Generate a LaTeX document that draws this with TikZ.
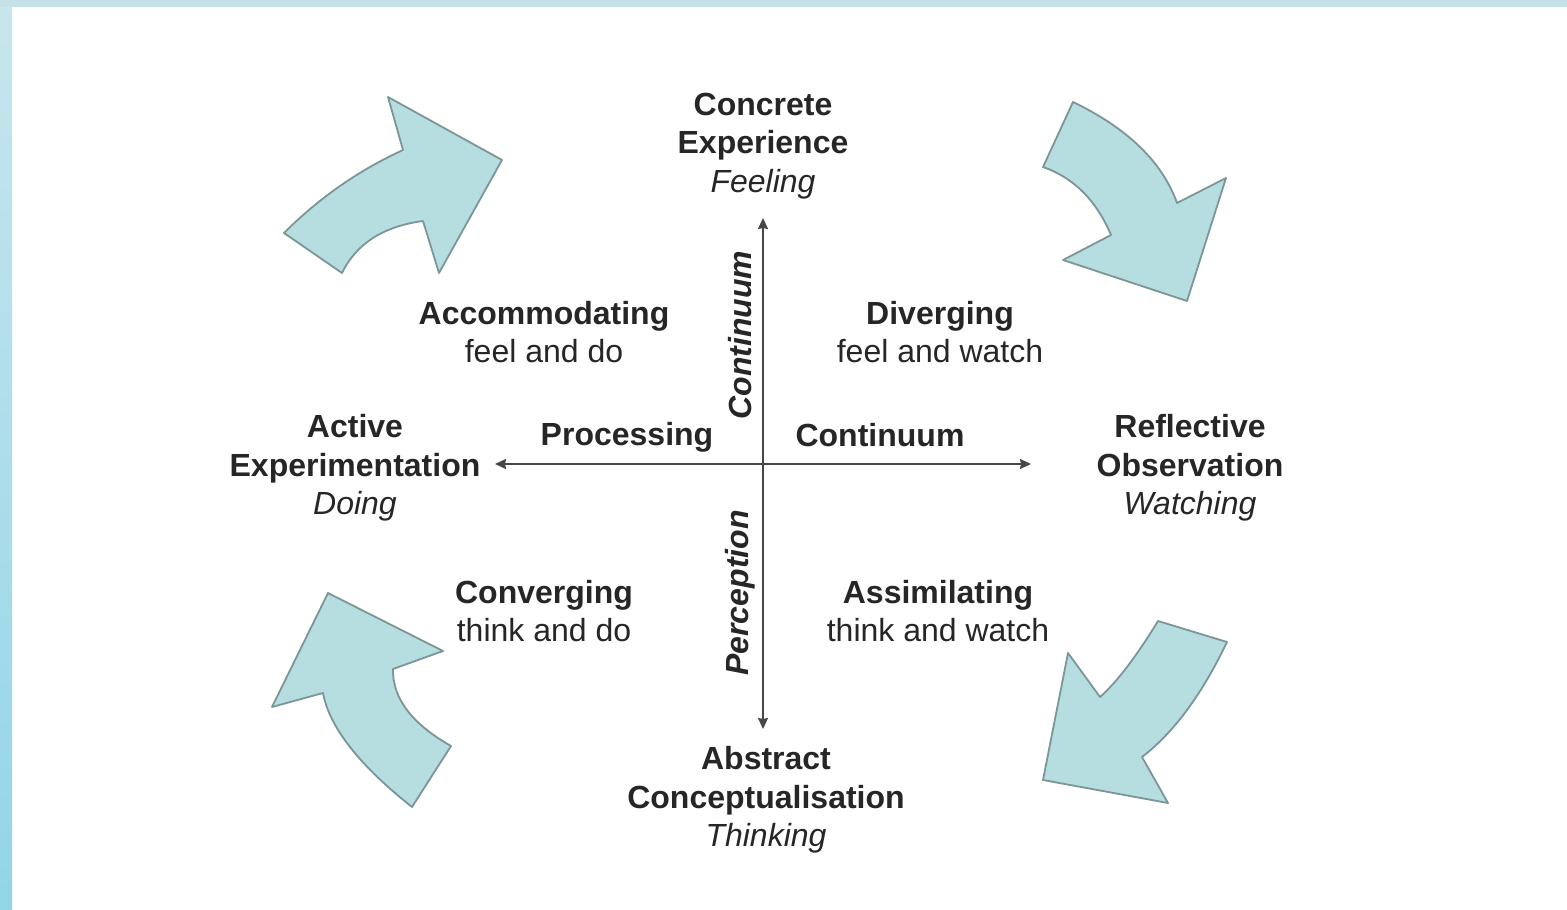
\documentclass[tikz,border=0pt]{standalone}
\usepackage{fontspec}
\setmainfont{Liberation Sans}
\usetikzlibrary{arrows.meta}
\definecolor{textc}{HTML}{262626}
\definecolor{arrfill}{HTML}{B6DDE0}
\definecolor{arrline}{HTML}{7C9698}
\definecolor{bandtop}{HTML}{C8E6EC}
\definecolor{bandbot}{HTML}{92D5E8}
\begin{document}
\begin{tikzpicture}[x=1pt,y=-1pt,
  txt/.style={font=\fontsize{32}{38.5}\selectfont, text=textc, align=center, inner sep=0pt},
  bigarrow/.style={fill=arrfill, draw=arrline, line width=1.8pt, line join=round},
  axis/.style={draw=textc!85, line width=1.7pt, {Stealth[length=11pt,width=10pt,inset=1pt]}-{Stealth[length=11pt,width=10pt,inset=1pt]}}]
\useasboundingbox (0,0) rectangle (1567,910);
\fill[white] (0,0) rectangle (1567,910);
\shade[top color=bandtop, bottom color=bandbot] (0,0) rectangle (12,910);
\fill[bandtop!95!gray] (0,0) rectangle (1567,7);

% curved arrows
\draw[bigarrow] (342,273) -- (284,233) .. controls (319,198) and (358.7,170.3) .. (403,150) -- (388,97) -- (502,160) -- (439,273) -- (423,221) .. controls (383.3,226.3) and (356.3,243.7) .. cycle;
\draw[bigarrow] (1073,102) .. controls (1127.7,128.3) and (1162.3,162) .. (1177,203) -- (1226,178) -- (1187,301) -- (1063,260) -- (1111,235) .. controls (1096.3,200.3) and (1073.7,177.7) .. (1043,167) -- cycle;
\draw[bigarrow] (1158,621) -- (1227,642) .. controls (1202,694.3) and (1173.7,732.7) .. (1142,757) -- (1168,803) -- (1043,780) -- (1068,653) -- (1100,697) .. controls (1116.7,682.3) and (1136,657) .. cycle;
\draw[bigarrow] (328,593) -- (443,651) -- (393,669) .. controls (392.3,698) and (411.7,723.7) .. (451,746) -- (412,807) .. controls (359,765) and (329.3,727) .. (323,693) -- (272,707) -- cycle;

% axes
\coordinate (top) at (763,218);
\coordinate (bot) at (763,729);
\coordinate (lft) at (495,464);
\coordinate (rgt) at (1031,464);
\draw[axis] (bot) -- (top);
\draw[axis] (lft) -- (rgt);

% texts
\node[txt] (ce) at (763,146) {\textbf{Concrete}\\\textbf{Experience}\\\textit{Feeling}};
\node[txt] (acc) at (544,332) {\textbf{Accommodating}\\feel and do};
\node[txt] (div) at (940,332) {\textbf{Diverging}\\feel and watch};
\node[txt] (ae) at (355,468) {\textbf{Active}\\\textbf{Experimentation}\\\textit{Doing}};
\node[txt] (pro) at (627,437) {\textbf{Processing}};
\node[txt] (con) at (880,435) {\textbf{Continuum}};
\node[txt] (ro) at (1190,468) {\textbf{Reflective}\\\textbf{Observation}\\\textit{Watching}};
\node[txt, rotate=90] (vcon) at (740,335) {\textbf{\textit{Continuum}}};
\node[txt, rotate=90] (per) at (740,593) {\textbf{\textit{Perception}}};
\node[txt] (cnv) at (544,611) {\textbf{Converging}\\think and do};
\node[txt] (asm) at (938,611) {\textbf{Assimilating}\\think and watch};
\node[txt] (ac) at (766,800) {\textbf{Abstract}\\\textbf{Conceptualisation}\\\textit{Thinking}};
\end{tikzpicture}
\end{document}
